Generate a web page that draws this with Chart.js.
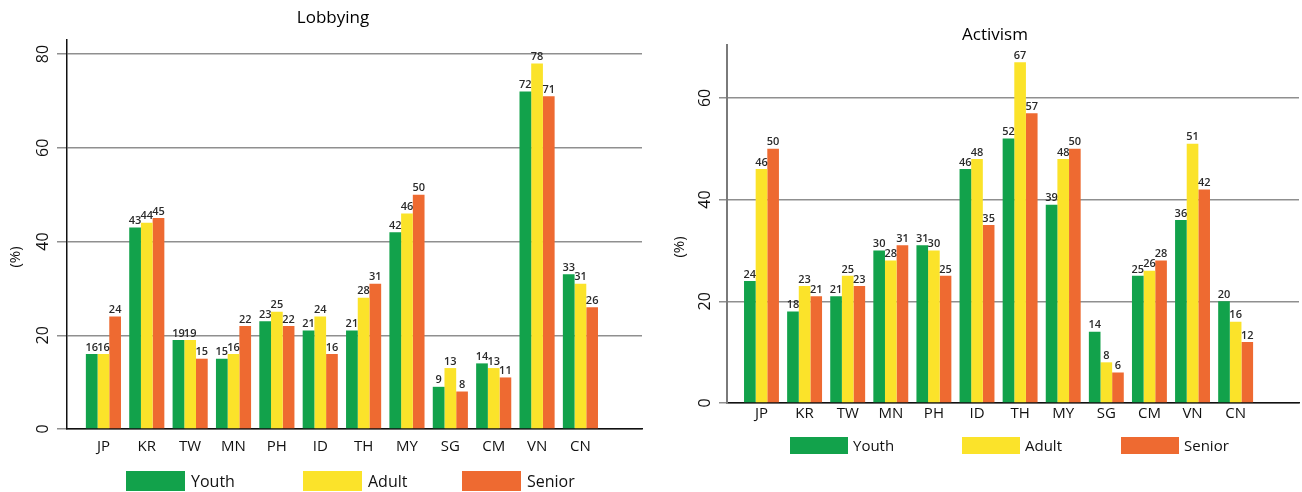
<!DOCTYPE html>
<html>
<head>
<meta charset="utf-8">
<script src="https://cdn.jsdelivr.net/npm/chart.js@4.4.1/dist/chart.umd.min.js"></script>
<style>
  html, body { margin: 0; padding: 0; background: #fff; overflow: hidden; }
  body { width: 1302px; height: 492px; position: relative; font-family: "Open Sans", sans-serif; }
  .panel { position: absolute; top: 0; height: 492px; }
  #lobbyPanel { left: 0; width: 650px; }
  #activPanel { left: 650px; width: 652px; }
  .legend { position: absolute; display: flex; align-items: center; color: #111; white-space: nowrap; }
  .legend .item { display: flex; align-items: center; }
  .legend .swatch { display: inline-block; }
</style>
</head>
<body>
<div class="panel" id="lobbyPanel"><canvas id="lobbyChart"></canvas></div>
<div class="panel" id="activPanel"><canvas id="activChart"></canvas></div>
<div class="legend" id="lobbyLegend"></div>
<div class="legend" id="activLegend"></div>
<script>
// Countries on the category axis
const categories = ['JP', 'KR', 'TW', 'MN', 'PH', 'ID', 'TH', 'MY', 'SG', 'CM', 'VN', 'CN'];
const seriesNames = ['Youth', 'Adult', 'Senior'];

// Lobbying (%) by age group
const lobbyingYouth  = [16, 43, 19, 15, 23, 21, 21, 42, 9, 14, 72, 33];
const lobbyingAdult  = [16, 44, 19, 16, 25, 24, 28, 46, 13, 13, 78, 31];
const lobbyingSenior = [24, 45, 15, 22, 22, 16, 31, 50, 8, 11, 71, 26];

// Activism (%) by age group
const activismYouth  = [24, 18, 21, 30, 31, 46, 52, 39, 14, 25, 36, 20];
const activismAdult  = [46, 23, 25, 28, 30, 48, 67, 48, 8, 26, 51, 16];
const activismSenior = [50, 21, 23, 31, 25, 35, 57, 50, 6, 28, 42, 12];

// Value-axis tick labels
const lobbyingTicks = [0, 20, 40, 60, 80];
const activismTicks = [0, 20, 40, 60];

const seriesColors = ['#12a24b', '#fbe32a', '#ee6a31'];

// Prints each bar's value just above it
const valueLabels = {
  id: 'valueLabels',
  afterDatasetsDraw(chart) {
    const ctx = chart.ctx;
    ctx.save();
    ctx.font = '600 11px "Open Sans", sans-serif';
    ctx.fillStyle = '#2a2a2a';
    ctx.textAlign = 'center';
    ctx.textBaseline = 'bottom';
    chart.data.datasets.forEach((ds, di) => {
      const meta = chart.getDatasetMeta(di);
      meta.data.forEach((bar, i) => {
        ctx.fillText(String(ds.data[i].y), bar.x, bar.y - 1);
      });
    });
    ctx.restore();
  }
};

// Rotated unit caption beside the value axis
const axisCaption = {
  id: 'axisCaption',
  afterDraw(chart, args, opts) {
    const ctx = chart.ctx;
    ctx.save();
    ctx.font = '15px "Open Sans", sans-serif';
    ctx.fillStyle = '#111';
    ctx.textAlign = 'center';
    ctx.textBaseline = 'middle';
    ctx.translate(opts.x, opts.y);
    ctx.rotate(-Math.PI / 2);
    ctx.fillText(opts.text, 0, 0);
    ctx.restore();
  }
};

function buildDatasets(series) {
  return series.map((values, s) => ({
    label: seriesNames[s],
    data: values.map((v, i) => ({ x: i, y: v })),
    backgroundColor: seriesColors[s],
    borderWidth: 0,
    categoryPercentage: 0.81,
    barPercentage: 1.0
  }));
}

function makeChart(canvasId, cfg) {
  return new Chart(document.getElementById(canvasId), {
    type: 'bar',
    data: { datasets: buildDatasets(cfg.series) },
    plugins: [valueLabels, axisCaption],
    options: {
      responsive: true,
      maintainAspectRatio: false,
      animation: false,
      layout: { padding: cfg.padding },
      plugins: {
        legend: { display: false },
        tooltip: { enabled: false },
        title: {
          display: true,
          text: cfg.title,
          color: '#000',
          font: { family: '"Open Sans", sans-serif', size: 17, weight: 'normal' },
          padding: cfg.titlePadding
        },
        axisCaption: cfg.caption
      },
      scales: {
        x: {
          type: 'linear',
          offset: false,
          min: cfg.xMin,
          max: cfg.xMax,
          afterBuildTicks(scale) { scale.ticks = categories.map((_, i) => ({ value: i })); },
          afterFit(scale) { scale.height = 30; },
          ticks: {
            autoSkip: false,
            maxRotation: 0,
            padding: cfg.xTickPad,
            color: '#111',
            font: { family: '"Open Sans", sans-serif', size: 15 },
            callback: (v) => categories[v] ?? ''
          },
          grid: { display: false, drawTicks: false },
          border: { display: true, color: '#111', width: 1.5 }
        },
        y: {
          min: 0,
          max: cfg.yMax,
          afterBuildTicks(scale) { scale.ticks = cfg.yTicks.map(v => ({ value: v })); },
          afterFit(scale) { scale.width = cfg.yWidth; },
          ticks: {
            minRotation: 90,
            maxRotation: 90,
            crossAlign: 'center',
            padding: 4,
            color: '#111',
            font: { family: '"Open Sans", sans-serif', size: 16 }
          },
          grid: { color: '#8f8f8f', lineWidth: 1.5, tickLength: cfg.tickLen, drawTicks: true },
          border: { display: true, color: cfg.yBorder, width: cfg.yBorderWidth }
        }
      }
    }
  });
}

makeChart('lobbyChart', {
  series: [lobbyingYouth, lobbyingAdult, lobbyingSenior],
  title: 'Lobbying',
  titlePadding: { top: 8, bottom: 11.6 },
  padding: { left: 24, right: 8, top: 0, bottom: 33 },
  yWidth: 43,
  yMax: 83,
  yTicks: lobbyingTicks,
  xMin: -0.84,
  xMax: 12.42,
  xTickPad: 9,
  tickLen: 10,
  yBorder: '#111',
  yBorderWidth: 1.5,
  caption: { text: '(%)', x: 16, y: 257 }
});

makeChart('activChart', {
  series: [activismYouth, activismAdult, activismSenior],
  title: 'Activism',
  titlePadding: { top: 24.6, bottom: 0 },
  padding: { left: 41, right: 3, top: 0, bottom: 59 },
  yWidth: 36,
  yMax: 70.4,
  yTicks: activismTicks,
  xMin: -0.80,
  xMax: 12.47,
  xTickPad: 2,
  tickLen: 8,
  yBorder: '#7a7a7a',
  yBorderWidth: 2,
  caption: { text: '(%)', x: 30, y: 247 }
});

// Legends built from the dataset names and colours
function buildLegend(elId, box) {
  const el = document.getElementById(elId);
  el.style.left = box.left + 'px';
  el.style.top = box.top + 'px';
  el.style.fontSize = box.fontSize + 'px';
  seriesNames.forEach((name, s) => {
    const item = document.createElement('div');
    item.className = 'item';
    if (box.itemWidths[s]) item.style.width = box.itemWidths[s] + 'px';
    const sw = document.createElement('span');
    sw.className = 'swatch';
    sw.style.width = box.swatchW + 'px';
    sw.style.height = box.swatchH + 'px';
    sw.style.background = seriesColors[s];
    sw.style.marginRight = box.gap + 'px';
    const tx = document.createElement('span');
    tx.textContent = name;
    item.appendChild(sw);
    item.appendChild(tx);
    el.appendChild(item);
  });
}

buildLegend('lobbyLegend', { left: 126, top: 470, fontSize: 16, itemWidths: [177, 159, 0], swatchW: 59, swatchH: 20, gap: 6 });
buildLegend('activLegend', { left: 790, top: 435, fontSize: 15, itemWidths: [172, 159, 0], swatchW: 58, swatchH: 17, gap: 5 });
</script>
</body>
</html>
